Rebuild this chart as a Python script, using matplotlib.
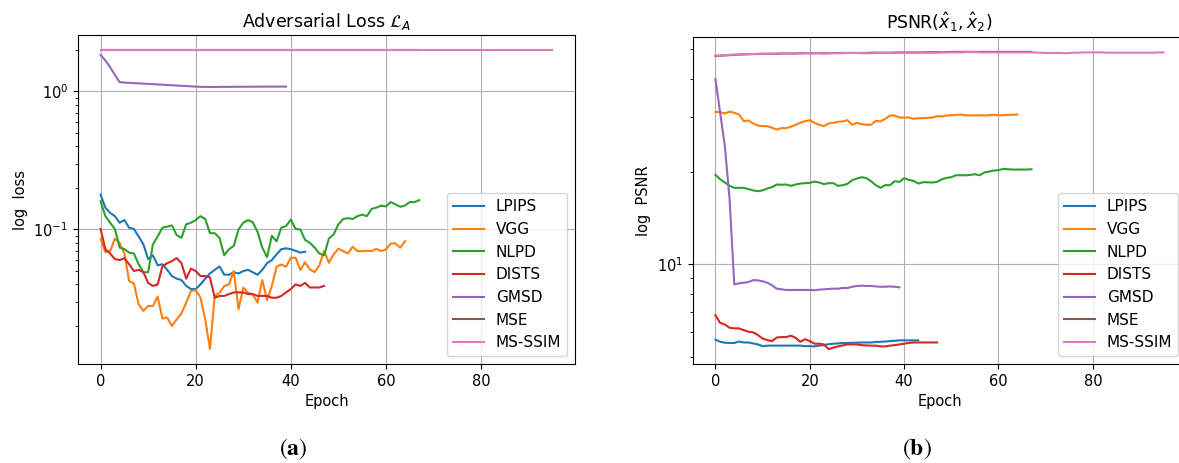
import matplotlib
matplotlib.use("Agg")
import matplotlib.pyplot as plt
from matplotlib.ticker import NullFormatter

plt.rcParams['font.size'] = 10.5

methods = ["LPIPS", "VGG", "NLPD", "DISTS", "GMSD", "MSE", "MS-SSIM"]
colors = ["#1f77b4", "#ff7f0e", "#2ca02c", "#d62728", "#9467bd", "#8c564b", "#e377c2"]

# ---- Adversarial loss (panel a) ----
loss_lpips = [0.179, 0.144, 0.132, 0.125, 0.112, 0.117, 0.103, 0.101, 0.089, 0.078,
              0.061, 0.065, 0.055, 0.056, 0.051, 0.046, 0.044, 0.043, 0.039, 0.037,
              0.037, 0.040, 0.044, 0.048, 0.051, 0.054, 0.047, 0.047, 0.049, 0.048,
              0.050, 0.051, 0.049, 0.047, 0.051, 0.057, 0.060, 0.066, 0.072, 0.073,
              0.072, 0.070, 0.068, 0.069]
loss_vgg = [0.0857, 0.0685, 0.0697, 0.0857, 0.0801, 0.0670, 0.0423, 0.0407, 0.0287, 0.0257,
            0.0279, 0.0279, 0.0326, 0.0226, 0.0230, 0.0200, 0.0223, 0.0247, 0.0295, 0.0358,
            0.0364, 0.0321, 0.0223, 0.0136, 0.0330, 0.0348, 0.0389, 0.0400, 0.0500, 0.0264,
            0.0379, 0.0348, 0.0339, 0.0295, 0.0430, 0.0308, 0.0389, 0.0537, 0.0558, 0.0537,
            0.0624, 0.0624, 0.0508, 0.0580, 0.0514, 0.0491, 0.0549, 0.0697, 0.0574, 0.0660,
            0.0725, 0.0697, 0.0670, 0.0750, 0.0697, 0.0697, 0.0701, 0.0697, 0.0725, 0.0697,
            0.0717, 0.0792, 0.0792, 0.0738, 0.0822]
loss_nlpd = [0.160, 0.125, 0.112, 0.101, 0.074, 0.072, 0.068, 0.067, 0.056, 0.049,
             0.049, 0.078, 0.089, 0.103, 0.105, 0.107, 0.091, 0.087, 0.109, 0.112,
             0.117, 0.125, 0.119, 0.094, 0.094, 0.087, 0.065, 0.072, 0.076, 0.100,
             0.112, 0.117, 0.113, 0.096, 0.074, 0.063, 0.090, 0.082, 0.103, 0.106,
             0.118, 0.101, 0.100, 0.084, 0.080, 0.074, 0.067, 0.065, 0.086, 0.092,
             0.109, 0.119, 0.121, 0.119, 0.125, 0.128, 0.125, 0.141, 0.144, 0.149,
             0.147, 0.158, 0.152, 0.146, 0.149, 0.158, 0.158, 0.163]
loss_dists = [0.101, 0.072, 0.067, 0.061, 0.060, 0.062, 0.056, 0.050, 0.051, 0.049,
              0.041, 0.039, 0.040, 0.054, 0.057, 0.059, 0.062, 0.057, 0.044, 0.052,
              0.050, 0.046, 0.046, 0.045, 0.032, 0.033, 0.033, 0.034, 0.035, 0.035,
              0.035, 0.034, 0.034, 0.033, 0.033, 0.033, 0.032, 0.032, 0.033, 0.035,
              0.037, 0.040, 0.039, 0.041, 0.038, 0.038, 0.038, 0.039]
loss_gmsd = [1.84, 1.68, 1.50, 1.32, 1.17, 1.16, 1.155, 1.15, 1.145, 1.14,
             1.135, 1.13, 1.125, 1.12, 1.115, 1.11, 1.105, 1.10, 1.095, 1.09,
             1.085, 1.08, 1.08, 1.078, 1.078, 1.08, 1.08, 1.08, 1.082, 1.082,
             1.082, 1.083, 1.083, 1.084, 1.084, 1.085, 1.085, 1.085, 1.085, 1.085]
loss_mse = [2.0, 2.0, 2.0, 2.0, 2.0, 2.0, 2.0, 2.0, 2.0, 2.0,
            2.0, 2.0, 2.0, 2.0, 2.0, 2.0, 2.0, 2.0, 2.0, 2.0,
            2.0, 2.0, 2.0, 2.0, 2.0, 2.0, 2.0, 2.0, 2.0, 2.0,
            2.0, 2.0, 2.0, 2.0, 2.0, 2.0, 2.0, 2.0, 2.0, 2.0,
            2.0, 2.0, 2.0, 2.0, 2.0, 2.0, 2.0, 2.0, 2.0, 2.0,
            2.0, 2.0, 2.0, 2.0, 2.0, 2.0, 2.0, 2.0, 2.0, 2.0,
            2.0, 2.0, 2.0, 2.0, 2.0, 2.0, 2.0, 2.0]
loss_msssim = [2.0, 2.0, 2.0, 2.0, 2.0, 2.0, 2.0, 2.0, 2.0, 2.0,
               2.0, 2.0, 2.0, 2.0, 2.0, 2.0, 2.0, 2.0, 2.0, 2.0,
               2.0, 2.0, 2.0, 2.0, 2.0, 2.0, 2.0, 2.0, 2.0, 2.0,
               2.0, 2.0, 2.0, 2.0, 2.0, 2.0, 2.0, 2.0, 2.0, 2.0,
               2.0, 2.0, 2.0, 2.0, 2.0, 2.0, 2.0, 2.0, 2.0, 2.0,
               2.0, 2.0, 2.0, 2.0, 2.0, 2.0, 2.0, 2.0, 2.0, 2.0,
               2.0, 2.0, 2.0, 2.0, 2.0, 2.0, 2.0, 2.0, 2.0, 2.0,
               2.0, 2.0, 2.0, 2.0, 2.0, 2.0, 2.0, 2.0, 2.0, 2.0,
               2.0, 2.0, 2.0, 2.0, 2.0, 2.0, 2.0, 2.0, 2.0, 2.0,
               2.0, 2.0, 2.0, 2.0, 2.0, 2.0]

# ---- PSNR (panel b) ----
psnr_lpips = [5.68, 5.59, 5.55, 5.54, 5.54, 5.60, 5.56, 5.56, 5.52, 5.48,
              5.41, 5.43, 5.43, 5.43, 5.43, 5.43, 5.43, 5.43, 5.43, 5.41,
              5.41, 5.40, 5.43, 5.45, 5.49, 5.51, 5.52, 5.54, 5.54, 5.55,
              5.55, 5.56, 5.56, 5.56, 5.58, 5.59, 5.60, 5.62, 5.63, 5.65,
              5.65, 5.65, 5.65, 5.65]
psnr_vgg = [31.26, 31.18, 30.88, 31.34, 31.04, 30.65, 29.16, 29.31, 28.67, 28.24,
            28.10, 28.10, 27.75, 27.41, 27.68, 27.68, 27.96, 28.38, 28.81, 29.16,
            29.38, 28.81, 28.38, 28.10, 28.67, 28.81, 29.03, 29.09, 29.38, 28.38,
            28.81, 28.52, 28.38, 28.38, 29.24, 29.09, 29.68, 30.43, 30.43, 29.97,
            29.97, 29.97, 29.68, 29.82, 29.82, 29.90, 29.97, 30.27, 30.20, 30.43,
            30.49, 30.58, 30.65, 30.49, 30.43, 30.49, 30.49, 30.43, 30.49, 30.58,
            30.49, 30.49, 30.58, 30.58, 30.65]
psnr_nlpd = [19.50, 18.88, 18.42, 17.97, 17.70, 17.70, 17.70, 17.53, 17.36, 17.27,
             17.36, 17.62, 17.79, 18.15, 18.11, 18.15, 17.97, 18.15, 18.28, 18.33,
             18.37, 18.55, 18.42, 18.20, 18.33, 18.33, 17.97, 18.06, 18.24, 18.74,
             18.98, 19.17, 19.03, 18.60, 18.06, 17.70, 18.06, 18.06, 18.60, 18.51,
             19.03, 18.79, 18.65, 18.28, 18.46, 18.46, 18.42, 18.51, 18.88, 19.07,
             19.17, 19.45, 19.45, 19.45, 19.50, 19.60, 19.45, 19.85, 20.00, 20.15,
             20.20, 20.40, 20.35, 20.30, 20.30, 20.30, 20.30, 20.35]
psnr_dists = [6.82, 6.44, 6.36, 6.21, 6.18, 6.18, 6.10, 6.03, 6.00, 5.88,
              5.73, 5.66, 5.62, 5.77, 5.79, 5.79, 5.85, 5.76, 5.59, 5.70,
              5.62, 5.51, 5.51, 5.48, 5.29, 5.35, 5.40, 5.44, 5.48, 5.48,
              5.48, 5.45, 5.44, 5.43, 5.43, 5.40, 5.40, 5.43, 5.45, 5.48,
              5.51, 5.54, 5.56, 5.56, 5.56, 5.56, 5.56, 5.56]
psnr_gmsd = [40.0, 31.1, 24.2, 16.3, 8.59, 8.66, 8.70, 8.74, 8.87, 8.85,
             8.79, 8.70, 8.53, 8.32, 8.28, 8.24, 8.24, 8.24, 8.24, 8.24,
             8.24, 8.22, 8.26, 8.28, 8.30, 8.32, 8.32, 8.36, 8.36, 8.44,
             8.49, 8.51, 8.49, 8.49, 8.46, 8.44, 8.44, 8.46, 8.44, 8.40]
psnr_mse = [47.5, 47.6, 47.7, 47.8, 47.9, 48.0, 48.1, 48.1, 48.2, 48.2,
            48.3, 48.3, 48.3, 48.3, 48.4, 48.4, 48.4, 48.4, 48.5, 48.5,
            48.5, 48.5, 48.5, 48.5, 48.5, 48.6, 48.6, 48.6, 48.6, 48.6,
            48.6, 48.6, 48.6, 48.7, 48.7, 48.7, 48.7, 48.7, 48.7, 48.8,
            48.8, 48.8, 48.8, 48.8, 48.8, 48.9, 48.9, 48.9, 48.9, 48.9,
            49.0, 49.0, 49.0, 49.0, 49.0, 49.0, 49.0, 49.0, 49.0, 49.0,
            49.0, 49.0, 49.0, 49.0, 49.0, 49.0, 49.0, 49.0]
psnr_msssim = [47.6, 47.7, 47.8, 47.9, 48.0, 48.0, 48.1, 48.2, 48.2, 48.3,
               48.3, 48.3, 48.3, 48.4, 48.4, 48.4, 48.4, 48.4, 48.4, 48.5,
               48.5, 48.5, 48.5, 48.4, 48.5, 48.5, 48.5, 48.5, 48.6, 48.6,
               48.6, 48.5, 48.5, 48.5, 48.6, 48.6, 48.6, 48.6, 48.7, 48.7,
               48.7, 48.6, 48.6, 48.6, 48.7, 48.7, 48.7, 48.7, 48.8, 48.8,
               48.8, 48.8, 48.8, 48.9, 48.9, 48.9, 48.8, 48.8, 48.8, 48.8,
               48.8, 48.8, 48.8, 48.8, 48.8, 48.8, 48.8, 48.8, 48.7, 48.7,
               48.6, 48.6, 48.6, 48.6, 48.5, 48.6, 48.7, 48.7, 48.8, 48.8,
               48.8, 48.8, 48.8, 48.7, 48.7, 48.7, 48.7, 48.7, 48.7, 48.7,
               48.7, 48.7, 48.7, 48.7, 48.8, 48.8]

loss_series = [loss_lpips, loss_vgg, loss_nlpd, loss_dists, loss_gmsd, loss_mse, loss_msssim]
psnr_series = [psnr_lpips, psnr_vgg, psnr_nlpd, psnr_dists, psnr_gmsd, psnr_mse, psnr_msssim]

fig = plt.figure(figsize=(11.79, 4.63), dpi=100)
W, H = 1179, 463
ax1 = fig.add_axes([78 / W, (H - 364) / H, 497 / W, 329 / H])
ax2 = fig.add_axes([693 / W, (H - 364) / H, 493 / W, 327 / H])

for ax, series in ((ax1, loss_series), (ax2, psnr_series)):
    for name, col, vals in zip(methods, colors, series):
        ax.plot(range(len(vals)), vals, color=col, label=name, linewidth=1.5)
    ax.set_yscale('log')
    ax.grid(True, which='major', color='#b0b0b0', linewidth=0.8)
    ax.set_xlabel('Epoch')
    ax.set_xticks([0, 20, 40, 60, 80])
    ax.legend(loc='lower right', fontsize=11)
    ax.yaxis.set_minor_formatter(NullFormatter())

ax1.set_title(r'Adversarial Loss $\mathcal{L}_A$', fontsize=12.5)
ax1.set_ylabel('log  loss')
ax2.set_title(r'PSNR$(\hat{x}_1, \hat{x}_2)$', fontsize=12.5)
ax2.set_ylabel('log  PSNR')

fig.text(293 / W, 1 - 449 / H, r'$\mathrm{(}\mathbf{a}\mathrm{)}$', ha='center', va='center',
         fontsize=17, math_fontfamily='stix')
fig.text(917 / W, 1 - 449 / H, r'$\mathrm{(}\mathbf{b}\mathrm{)}$', ha='center', va='center',
         fontsize=17, math_fontfamily='stix')

fig.savefig('out.png', dpi=100)
